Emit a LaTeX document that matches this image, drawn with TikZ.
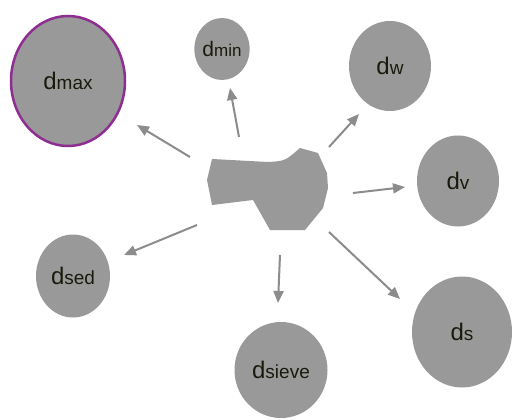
\documentclass[tikz,border=0pt]{standalone}
\usepackage{fontspec}
\setmainfont{Liberation Sans}
\usetikzlibrary{shapes.geometric,arrows.meta}
\definecolor{blobgray}{HTML}{999999}
\definecolor{arrowgray}{HTML}{8C8C8C}
\definecolor{labeltext}{HTML}{1A1A0C}
\definecolor{rimpurple}{HTML}{8E2E91}
\newcommand{\dlabel}[1]{{\fontsize{24}{24}\selectfont d}{\fontsize{19}{19}\selectfont #1}}
\newcommand{\dlabelsmall}[1]{{\fontsize{21}{21}\selectfont d}{\fontsize{17}{17}\selectfont #1}}
\begin{document}
\begin{tikzpicture}[x=1pt,y=-1pt,
  ball/.style={ellipse,fill=blobgray,inner sep=0pt,text=labeltext},
  flow/.style={draw=arrowgray,line width=2pt,-{Triangle[length=12pt,width=10pt]}}]
\useasboundingbox (0,0) rectangle (523,420);
\fill[white] (0,0) rectangle (523,420);
% central particle
\fill[blobgray] (212,159) -- (268,162) .. controls (285,161) .. (300,148) -- (318,153) -- (327,173) -- (328,188) -- (323,208) -- (305,230) -- (270,230) -- (253,200) -- (212,205) -- (207,180) -- cycle;
\coordinate (blob) at (268,190);
% circles
\node[ball,draw=rimpurple,line width=2.5pt,minimum width=114pt,minimum height=130pt] (dmax) at (68,81) {\dlabel{max}};
\node[ball,minimum width=54pt,minimum height=62pt] (dmin) at (222,49) {\dlabelsmall{min}};
\node[ball,minimum width=82pt,minimum height=90pt] (dw) at (390,66) {\dlabel{w}};
\node[ball,minimum width=82pt,minimum height=91pt] (dv) at (458,181) {\dlabel{v}};
\node[ball,minimum width=74pt,minimum height=83pt] (dsed) at (73,276) {\dlabel{sed}};
\node[ball,minimum width=93pt,minimum height=96pt] (dsieve) at (281,370) {\dlabel{sieve}};
\node[ball,minimum width=100pt,minimum height=111pt] (ds) at (462,332) {\dlabel{s}};
% arrow ends
\coordinate (t1) at (190,157); \coordinate (h1) at (137,125);
\coordinate (t2) at (239,137); \coordinate (h2) at (230,88);
\coordinate (t3) at (329,147); \coordinate (h3) at (359,114);
\coordinate (t4) at (353,193); \coordinate (h4) at (405,187);
\coordinate (t5) at (197,225); \coordinate (h5) at (124,255);
\coordinate (t6) at (280,255); \coordinate (h6) at (278,303);
\coordinate (t7) at (329,232); \coordinate (h7) at (400,299);
\draw[flow] (t1) -- (h1);
\draw[flow] (t2) -- (h2);
\draw[flow] (t3) -- (h3);
\draw[flow] (t4) -- (h4);
\draw[flow] (t5) -- (h5);
\draw[flow] (t6) -- (h6);
\draw[flow] (t7) -- (h7);
\end{tikzpicture}
\end{document}
